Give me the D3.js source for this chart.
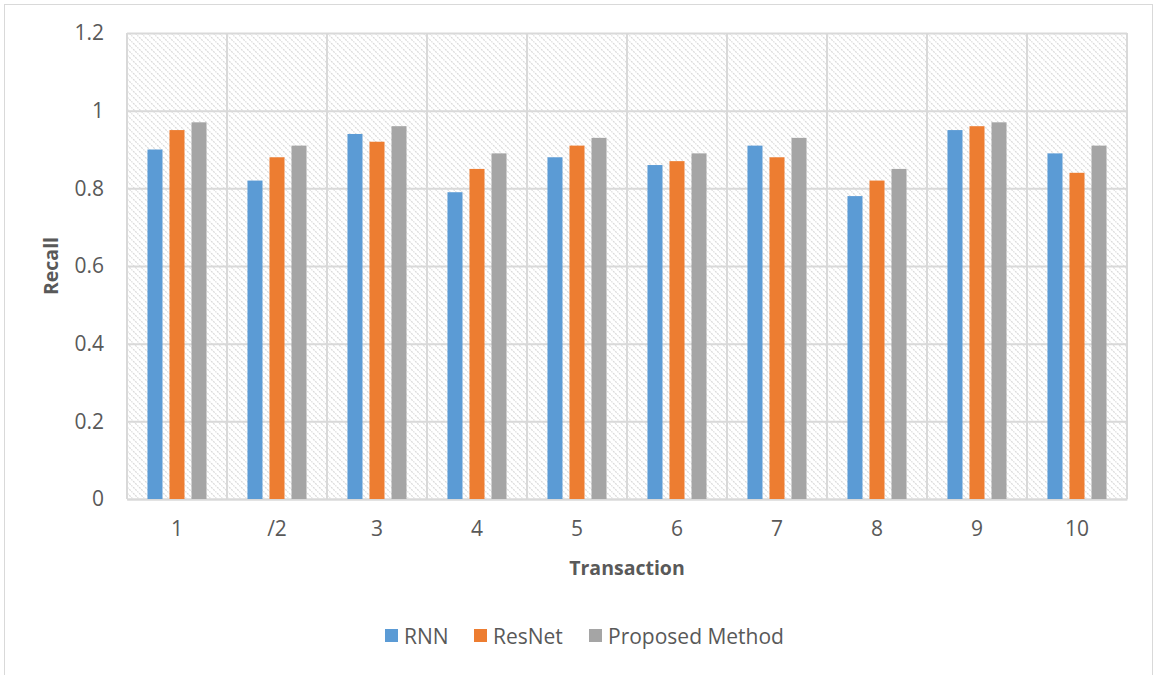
<!DOCTYPE html>
<html><head><meta charset="utf-8">
<script src="https://cdn.jsdelivr.net/npm/d3@7"></script>
<style>body{margin:0;background:#fff}svg{display:block}text{font-family:"Open Sans","Liberation Sans",sans-serif;fill:#595959}</style>
</head><body><svg id="c" width="1156" height="675"></svg>
<script>
const categories = ["1","/2","3","4","5","6","7","8","9","10"];
const seriesNames = ["RNN","ResNet","Proposed Method"];
const rnn = [0.90,0.82,0.94,0.79,0.88,0.86,0.91,0.78,0.95,0.89];
const resnet = [0.95,0.88,0.92,0.85,0.91,0.87,0.88,0.82,0.96,0.84];
const proposed = [0.97,0.91,0.96,0.89,0.93,0.89,0.93,0.85,0.97,0.91];
const yTicks = [0,0.2,0.4,0.6,0.8,1,1.2];
const colors = ["#5B9BD5","#ED7D31","#A5A5A5"];
const series = [rnn, resnet, proposed];

const svg = d3.select("#c");
svg.append("rect").attr("x",4.5).attr("y",4.5).attr("width",1148).attr("height",675).attr("fill","#fff").attr("stroke","#d9d9d9");

const defs = svg.append("defs");
const pat = defs.append("pattern").attr("id","hatch").attr("patternUnits","userSpaceOnUse").attr("width",6).attr("height",6);
pat.append("rect").attr("width",6).attr("height",6).attr("fill","#fff");
pat.append("path").attr("d","M-1,-1 L7,7 M-1,5 L1,7 M5,-1 L7,1").attr("stroke","#dadada").attr("stroke-width",1.2).attr("stroke-dasharray","2,1");

const L=127,R=1127,T=33,B=499;
const x = d3.scaleBand().domain(categories).range([L,R]).paddingInner(0).paddingOuter(0);
const y = d3.scaleLinear().domain([0,1.2]).range([B,T]);
const xs = d3.scaleBand().domain(d3.range(3)).range([0,x.bandwidth()]).paddingInner(0.318).paddingOuter(0.93);

svg.append("rect").attr("x",L).attr("y",T).attr("width",R-L).attr("height",B-T).attr("fill","url(#hatch)");

const gy = svg.append("g").attr("transform",`translate(${L},0)`)
 .call(d3.axisLeft(y).tickValues(yTicks).tickSize(-(R-L)).tickFormat(d=>d3.format("~g")(d)).tickPadding(23));
gy.select(".domain").remove();
gy.selectAll(".tick line").attr("stroke","#d9d9d9").attr("stroke-width",2);
gy.selectAll(".tick text").attr("font-size",21).style("fill","#595959");

const gx = svg.append("g").attr("transform",`translate(0,${B})`)
 .call(d3.axisBottom(x).tickSize(0).tickPadding(22));
gx.select(".domain").attr("stroke","#d9d9d9").attr("stroke-width",2);
gx.selectAll(".tick text").attr("font-size",21).style("fill","#595959");

svg.append("g").selectAll("line").data(categories.concat(["end"])).join("line")
 .attr("x1",(d,i)=>L+i*x.bandwidth()).attr("x2",(d,i)=>L+i*x.bandwidth())
 .attr("y1",T).attr("y2",B).attr("stroke","#d9d9d9").attr("stroke-width",2);

series.forEach((s,si)=>{
  svg.append("g").selectAll("rect").data(s).join("rect")
   .attr("x",(d,i)=>x(categories[i])+xs(si))
   .attr("width",xs.bandwidth())
   .attr("y",d=>y(d)).attr("height",d=>B-y(d))
   .attr("fill",colors[si]);
});

svg.append("text").attr("x",(L+R)/2).attr("y",575).attr("text-anchor","middle")
 .attr("font-size",19.5).attr("font-weight","bold").text("Transaction");
svg.append("text").attr("transform",`translate(58,${(T+B)/2}) rotate(-90)`).attr("text-anchor","middle")
 .attr("font-size",19.5).attr("font-weight","bold").text("Recall");

const legX=[385,474,589];
const lg = svg.append("g");
seriesNames.forEach((n,i)=>{
  lg.append("rect").attr("x",legX[i]).attr("y",629).attr("width",13).attr("height",13).attr("fill",colors[i]);
  lg.append("text").attr("x",legX[i]+19).attr("y",644).attr("font-size",21).text(n);
});
</script></body></html>
